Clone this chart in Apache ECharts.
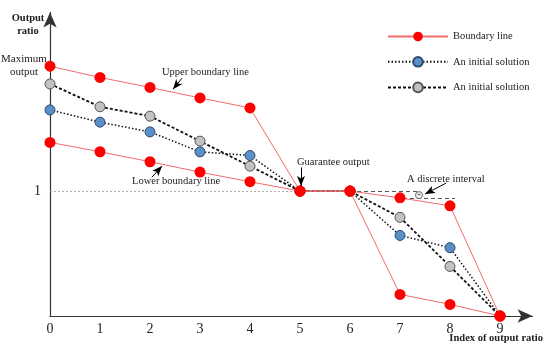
<!DOCTYPE html>
<html>
<head>
<meta charset="utf-8">
<script src="https://cdn.jsdelivr.net/npm/echarts@6/dist/echarts.min.js"></script>
<style>html,body{margin:0;padding:0;background:#fff}#c{width:550px;height:349px}</style>
</head>
<body>
<div id="c"></div>
<script>
var xIndex = [0, 1, 2, 3, 4, 5, 6, 7, 8, 9];
var upperBoundary = [2.0, 1.91, 1.83, 1.746, 1.666, 1.0, 1.0, 0.946, 0.882, 0];
var lowerBoundary = [1.39, 1.315, 1.235, 1.152, 1.075, 1.0, 1.0, 0.173, 0.093, 0];
var solutionBlue = [1.65, 1.552, 1.474, 1.314, 1.285, 1.0, 1.0, 0.645, 0.547, 0];
var solutionGray = [1.858, 1.675, 1.6, 1.40, 1.20, 1.0, 1.0, 0.79, 0.397, 0];
var yTickLabels = {1: '1'};

function pairs(ys) { return xIndex.map(function (x, i) { return [x, ys[i]]; }); }

var FONT = 'Liberation Serif';
var chart = echarts.init(document.getElementById('c'), null, {renderer: 'canvas'});

var arrowLine = function (from, to) {
  return [{coord: from}, {coord: to}];
};

chart.setOption({
  animation: false,
  backgroundColor: '#fff',
  textStyle: {fontFamily: FONT},
  grid: {left: 50, right: 17.5, top: 12.5, bottom: 33, containLabel: false, outerBoundsMode: 'none'},
  legend: {
    left: 387, top: 31, orient: 'vertical', padding: 0,
    itemWidth: 60, itemHeight: 12, itemGap: 14,
    textStyle: {fontFamily: FONT, fontSize: 10.5, color: '#222'},
    data: ['Boundary line', 'An initial solution', 'An initial solution ']
  },
  xAxis: {
    type: 'value', min: 0, max: 9.65, interval: 1,
    axisLine: {lineStyle: {color: '#333', width: 1.2}, symbol: ['none', 'arrow'], symbolSize: [10, 15]},
    axisTick: {show: false},
    splitLine: {show: false},
    axisLabel: {fontFamily: FONT, fontSize: 14, color: '#222', margin: 6, showMaxLabel: false,
      formatter: function (v) { return Number.isInteger(v) ? String(v) : ''; }}
  },
  yAxis: {
    type: 'value', min: 0, max: 2.43, interval: 1,
    axisLine: {lineStyle: {color: '#333', width: 1.2}, symbol: ['none', 'arrow'], symbolSize: [10, 15]},
    axisTick: {show: false},
    splitLine: {show: false},
    axisLabel: {fontFamily: FONT, fontSize: 14, color: '#222', margin: 9, showMaxLabel: false,
      formatter: function (v) { return yTickLabels[v] || ''; }}
  },
  graphic: [
    {type: 'text', x: 28, y: 12, style: {text: 'Output\nratio', font: 'bold 10.5px "Liberation Serif"', fill: '#222', lineHeight: 13, align: 'center'}},
    {type: 'text', x: 24, y: 53, style: {text: 'Maximum\noutput', font: '11px "Liberation Serif"', fill: '#222', lineHeight: 12.5, align: 'center'}},
    {type: 'text', left: 162, top: 67, style: {text: 'Upper boundary line', font: '10.5px "Liberation Serif"', fill: '#222'}},
    {type: 'text', left: 132, top: 176, style: {text: 'Lower boundary line', font: '10.5px "Liberation Serif"', fill: '#222'}},
    {type: 'text', left: 297, top: 157, style: {text: 'Guarantee output', font: '10.5px "Liberation Serif"', fill: '#222'}},
    {type: 'text', left: 407, top: 174, style: {text: 'A discrete interval', font: '10.5px "Liberation Serif"', fill: '#222'}},
    {type: 'text', right: 7, top: 333, style: {text: 'Index of output ratio', font: 'bold 10.5px "Liberation Serif"', fill: '#222'}}
  ],
  series: [
    {
      name: 'An initial solution', type: 'line', data: pairs(solutionBlue), z: 3,
      symbol: 'circle', symbolSize: 10,
      lineStyle: {color: '#111', width: 1.5, type: [1.5, 2]},
      itemStyle: {color: '#5b8fc8', borderColor: '#2d4a6e', borderWidth: 1},
      markLine: {
        silent: true, symbol: ['none', 'none'], label: {show: false},
        lineStyle: {color: '#999', width: 0.8, type: [2, 2]},
        data: [arrowLine([0, 1], [5, 1])]
      }
    },
    {
      name: 'An initial solution ', type: 'line', data: pairs(solutionGray), z: 3,
      symbol: 'circle', symbolSize: 10,
      lineStyle: {color: '#111', width: 1.8, type: [3, 2]},
      itemStyle: {color: '#c2c2c2', borderColor: '#555', borderWidth: 1},
      markLine: {
        silent: true, symbol: ['none', 'none'], label: {show: false},
        lineStyle: {color: '#444', width: 0.9, type: [4, 3]},
        data: [arrowLine([6, 0.995], [7.36, 0.995]), arrowLine([7.06, 0.944], [8.1, 0.944])]
      },
      markPoint: {
        silent: true, symbol: 'circle', symbolSize: 7,
        itemStyle: {color: '#fff', borderColor: '#666', borderWidth: 1},
        label: {show: true, formatter: '*', color: '#666', fontSize: 9, offset: [0, 1.5]},
        data: [{coord: [7.38, 0.968]}]
      }
    },
    {
      name: 'Boundary line', type: 'line', data: pairs(upperBoundary), z: 5,
      symbol: 'circle', symbolSize: 11,
      lineStyle: {color: '#f26b6b', width: 1},
      itemStyle: {color: '#ff0000'},
      markLine: {
        silent: true, symbol: ['none', 'arrow'], symbolSize: [6, 10], label: {show: false},
        lineStyle: {color: '#000', width: 1, type: 'solid'},
        data: [
          arrowLine([2.64, 1.904], [2.46, 1.816]),
          arrowLine([2.04, 1.112], [2.24, 1.2]),
          arrowLine([5.02, 1.19], [5.02, 1.04]),
          arrowLine([7.92, 1.064], [7.5, 0.976])
        ]
      }
    },
    {
      name: 'Boundary line', type: 'line', data: pairs(lowerBoundary), z: 5,
      symbol: 'circle', symbolSize: 11,
      lineStyle: {color: '#f26b6b', width: 1},
      itemStyle: {color: '#ff0000'}
    }
  ]
});
</script>
</body>
</html>
